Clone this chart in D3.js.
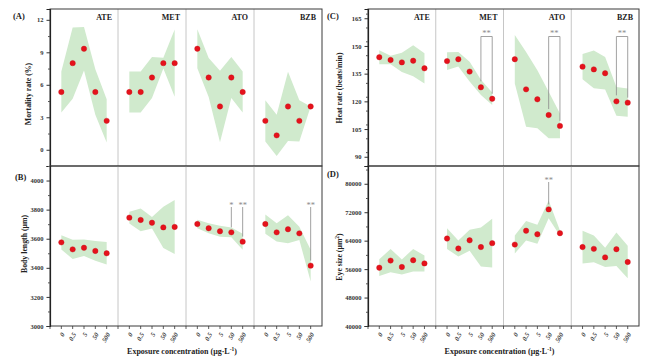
<!DOCTYPE html>
<html><head><meta charset="utf-8">
<script src="https://cdn.jsdelivr.net/npm/d3@7"></script>
<style>body{margin:0;background:#fff}svg{display:block}</style>
</head><body><svg id="c" width="650" height="361"></svg>
<script>
const groups = ["ATE","MET","ATO","BZB"];
const concentrations = ["0","0.5","5","50","500"];

const mortalityMean = [[5.33,8,9.33,5.33,2.67],[5.33,5.33,6.67,8,8],[9.33,6.67,4,6.67,5.33],[2.67,1.33,4,2.67,4]];
const mortalitySD   = [[1.9,3.3,2.0,2.1,2.0],[1.9,1.9,1.9,0.5,3.1],[1.8,1.8,3.3,1.9,1.9],[1.9,1.9,3.2,1.9,0]];
const mortalityTicks = [0,3,6,9,12];

const lengthMean = [[3575,3527,3538,3516,3500],[3745,3729,3710,3678,3681],[3701,3672,3651,3644,3580],[3701,3644,3665,3637,3415]];
const lengthSD   = [[49,66,57,68,78],[40,78,40,141,186],[29,34,38,34,55],[66,63,96,46,109]];
const lengthTicks = [3000,3200,3400,3600,3800,4000];

const heartMean = [[143.9,142.4,141.1,142.0,137.9],[141.8,142.8,136.1,127.6,121.4],[142.8,126.5,121.1,112.6,106.7],[138.8,137.3,135.2,120.0,119.3]];
const heartSD   = [[3.8,2.3,5.2,8.4,8.2],[4.8,3.9,5.4,4.1,3.4],[13.1,20.2,15.7,12.6,6.7],[6.9,10.2,8.8,7.8,7.7]];
const heartTicks = [90,105,120,135,150,165];

const eyeMean = [[56400,58400,56600,58500,57600],[64600,61800,64100,62200,63300],[62900,66800,65800,72800,66100],[62200,61700,59300,61600,58000]];
const eyeSD   = [[2350,3290,2110,3190,2250],[2910,2250,2960,5490,6850],[2540,2720,2680,2490,750],[4600,3760,2680,4700,4550]];
const eyeTicks = [40000,48000,56000,64000,72000,80000];

const lengthSig = [{group:2, at:3, label:"*"},{group:2, at:4, label:"**"},{group:3, at:4, label:"**"}];
const heartSig  = [{group:1, from:3, to:4, label:"**"},{group:2, from:3, to:4, label:"**"},{group:3, from:3, to:4, label:"**"}];
const eyeSig    = [{group:2, at:3, label:"**"}];

const panels = [
  {label:"(A)", mean:mortalityMean, sd:mortalitySD, ticks:mortalityTicks, minor:1.5, domain:[-1.5,13],
   left:50, right:322, top:9, bottom:166, ytitle:"Mortality rate (%)", tx:28, ty:94, lx:13, ly:19, groupTitles:true, xAxis:false, sig:[]},
  {label:"(B)", mean:lengthMean, sd:lengthSD, ticks:lengthTicks, minor:100, domain:[3000,4100],
   left:50, right:322, top:166, bottom:326, ytitle:"Body length (μm)", tx:24, ty:244, lx:15, ly:180, groupTitles:false, xAxis:true, sig:lengthSig, sigTop:207},
  {label:"(C)", mean:heartMean, sd:heartSD, ticks:heartTicks, minor:7.5, domain:[85,170],
   left:368, right:639, top:9, bottom:166, ytitle:"Heat rate (beats/min)", tx:339, ty:88, lx:327, ly:19, groupTitles:true, xAxis:false, sig:heartSig, sigTop:36.5},
  {label:"(D)", mean:eyeMean, sd:eyeSD, ticks:eyeTicks, minor:4000, domain:[40000,85000],
   left:368, right:639, top:166, bottom:326, ytitle:"Eye size (μm²)", tx:339, ty:257, lx:327, ly:177, groupTitles:false, xAxis:true, sig:eyeSig, sigTop:182}
];

const svg = d3.select("#c");
const serif = "'Liberation Serif','Times New Roman',serif";

panels.forEach(p => {
  const g = svg.append("g");
  const y = d3.scaleLinear().domain(p.domain).range([p.bottom, p.top]);
  const gx = d3.scaleBand().domain(groups).range([p.left, p.right]);
  const xi = d3.scalePoint().domain(concentrations).range([0, gx.bandwidth()]).padding(1);
  const X = (gi, ci) => gx(groups[gi]) + xi(concentrations[ci]);

  groups.forEach((grp, gi) => {
    const rows = concentrations.map((c, ci) => ({ci, m:p.mean[gi][ci], s:p.sd[gi][ci]}));
    const area = d3.area().x(d => X(gi, d.ci)).y0(d => y(d.m - d.s)).y1(d => y(d.m + d.s));
    g.append("path").attr("d", area(rows)).attr("fill", "#d0eacd").attr("stroke", "none");
  });

  groups.slice(1).forEach(grp => {
    g.append("line").attr("x1", gx(grp)).attr("x2", gx(grp)).attr("y1", p.top).attr("y2", p.bottom)
      .attr("stroke", "#b8b8b8").attr("stroke-width", 0.8);
  });

  p.sig.forEach(s => {
    const col = "#8a8a8a";
    if (s.from !== undefined) {
      const xa = X(s.group, s.from), xb = X(s.group, s.to);
      const ya = y(p.mean[s.group][s.from]) - 6, yb = y(p.mean[s.group][s.to]) - 5;
      g.append("path").attr("d", `M${xa},${ya}V${p.sigTop}H${xb}V${yb}`)
        .attr("fill", "none").attr("stroke", col).attr("stroke-width", 0.8);
      g.append("text").attr("x", (xa + xb) / 2).attr("y", p.sigTop - 0.5).attr("text-anchor", "middle")
        .attr("font-family", serif).attr("font-size", 8.5).attr("fill", col).text(s.label);
    } else {
      const xa = X(s.group, s.at), ya = y(p.mean[s.group][s.at]) - 5;
      g.append("line").attr("x1", xa).attr("x2", xa).attr("y1", p.sigTop).attr("y2", ya)
        .attr("stroke", col).attr("stroke-width", 0.8);
      g.append("text").attr("x", xa).attr("y", p.sigTop + 1).attr("text-anchor", "middle")
        .attr("font-family", serif).attr("font-size", 8.5).attr("fill", col).text(s.label);
    }
  });

  groups.forEach((grp, gi) => {
    concentrations.forEach((c, ci) => {
      g.append("circle").attr("cx", X(gi, ci)).attr("cy", y(p.mean[gi][ci])).attr("r", 2.7)
        .attr("fill", "#e5121b").attr("stroke", "#c8101a").attr("stroke-width", 0.4);
    });
  });

  g.append("rect").attr("x", p.left).attr("y", p.top).attr("width", p.right - p.left).attr("height", p.bottom - p.top)
    .attr("fill", "none").attr("stroke", "#3a3a3a").attr("stroke-width", 1);

  const minorVals = d3.range(p.domain[0], p.domain[1] + 1e-9, p.minor).filter(v => !p.ticks.includes(v));
  const ax = g.append("g").attr("transform", `translate(${p.left},0)`)
    .call(d3.axisLeft(y).tickValues(p.ticks).tickSize(3.5).tickPadding(3).tickFormat(d3.format("d")));
  ax.select(".domain").attr("stroke", "#222").attr("stroke-width", 1.2);
  ax.selectAll(".tick line").attr("stroke", "#333");
  ax.selectAll("text").attr("font-family", serif).attr("font-size", 6.5).attr("font-weight", "bold").attr("fill", "#333");
  const mx = g.append("g").attr("transform", `translate(${p.left},0)`)
    .call(d3.axisLeft(y).tickValues(minorVals).tickSize(2).tickFormat(""));
  mx.select(".domain").remove();
  mx.selectAll(".tick line").attr("stroke", "#555");

  if (p.xAxis) {
    const vals = [];
    groups.forEach((grp, gi) => concentrations.forEach((c, ci) => vals.push({gi, ci})));
    const xg = g.append("g");
    vals.forEach(v => {
      const xx = X(v.gi, v.ci);
      xg.append("line").attr("x1", xx).attr("x2", xx).attr("y1", p.bottom).attr("y2", p.bottom + 3)
        .attr("stroke", "#333").attr("stroke-width", 0.8);
      xg.append("text").attr("transform", `translate(${xx + 1.5},${p.bottom + 7}) rotate(-60)`)
        .attr("text-anchor", "end").attr("dominant-baseline", "central")
        .attr("font-family", serif).attr("font-size", 6.5).attr("font-weight", "bold").attr("font-style", "italic")
        .attr("fill", "#333").text(concentrations[v.ci]);
    });
    groups.forEach(grp => {
      xg.append("line").attr("x1", gx(grp)).attr("x2", gx(grp)).attr("y1", p.bottom).attr("y2", p.bottom + 3)
        .attr("stroke", "#333").attr("stroke-width", 0.8);
    });
    const t = g.append("text").attr("x", (p.left + p.right) / 2 - 4).attr("y", 354).attr("text-anchor", "middle")
      .attr("font-family", serif).attr("font-size", 8).attr("font-weight", "bold").attr("fill", "#222");
    t.append("tspan").text("Exposure concentration (μg·L");
    t.append("tspan").attr("font-size", 5.5).attr("dy", -3).text("-1");
    t.append("tspan").attr("dy", 3).text(")");
  }

  if (p.groupTitles) {
    groups.forEach(grp => {
      g.append("text").attr("x", gx(grp) + gx.bandwidth() - 6).attr("y", p.top + 11).attr("text-anchor", "end")
        .attr("font-family", serif).attr("font-size", 8).attr("font-weight", "bold").attr("fill", "#222").text(grp);
    });
  }

  const yt = g.append("text").attr("transform", `translate(${p.tx},${p.ty}) rotate(-90)`)
    .attr("text-anchor", "middle").attr("dominant-baseline", "central")
    .attr("font-family", serif).attr("font-size", 7.8).attr("font-weight", "bold").attr("fill", "#222");
  if (p.ytitle.endsWith("²)")) {
    yt.append("tspan").text("Eye size (μm");
    yt.append("tspan").attr("font-size", 5.5).attr("dy", -2.5).text("2");
    yt.append("tspan").attr("dy", 2.5).text(")");
  } else {
    yt.text(p.ytitle);
  }

  g.append("text").attr("x", p.lx).attr("y", p.ly).attr("font-family", serif).attr("font-size", 8.5)
    .attr("font-weight", "bold").attr("fill", "#222").text(p.label);
});
</script>
</body></html>
